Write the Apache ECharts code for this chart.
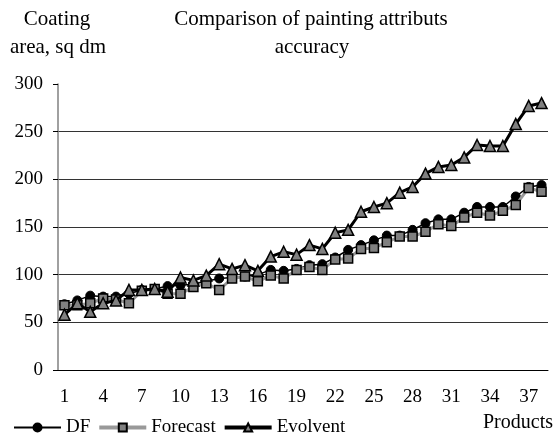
<!DOCTYPE html>
<html>
<head>
<meta charset="utf-8">
<script src="https://cdn.jsdelivr.net/npm/echarts@6/dist/echarts.min.js"></script>
<style>html,body{margin:0;padding:0;background:#fff}#c{width:556px;height:436px}</style>
</head>
<body>
<div id="c"></div>
<script>
const categories = Array.from({length: 38}, (_, i) => String(i + 1));
const dfValues = [69, 73, 78, 77, 77, 80, 84, 85, 88, 89, 90, 93, 96, 97, 98, 100, 105, 104, 106, 110, 111, 118, 126, 131, 136, 141, 141, 147, 154, 158, 158, 165, 171, 171, 171, 182, 192, 194];
const forecastValues = [68, 68, 70, 75, 74, 70, 83, 85, 80, 80, 87, 91, 84, 96, 98, 93, 99, 96, 105, 108, 105, 116, 117, 127, 128, 134, 140, 140, 145, 153, 151, 160, 165, 162, 167, 173, 191, 187];
const evolventValues = [58, 70, 61, 70, 73, 84, 84, 85, 82, 97, 94, 99, 111, 106, 110, 104, 119, 124, 121, 131, 127, 144, 147, 166, 171, 175, 186, 192, 206, 213, 215, 223, 236, 235, 235, 258, 277, 280];
const yTicks = [0, 50, 100, 150, 200, 250, 300];

const FONT = '"Liberation Serif", "Times New Roman", serif';
const chart = echarts.init(document.getElementById('c'));
function txt(t, x, y, size, align) {
  return {type: 'text', x: x, y: y, style: {text: t, fontFamily: FONT, fontSize: size, fill: '#000', textAlign: align || 'center', textVerticalAlign: 'middle'}};
}
chart.setOption({
  animation: false,
  backgroundColor: '#fff',
  textStyle: {fontFamily: FONT, color: '#000'},
  grid: {left: 58, right: 8, top: 84, bottom: 66},
  graphic: [
    txt('Comparison of painting attributs', 311, 19, 21),
    txt('accuracy', 312, 47, 21),
    txt('Coating', 57, 19, 21),
    txt('area, sq dm', 58, 47, 21),
    txt('Products', 553, 423, 20, 'right')
  ],
  legend: {
    left: 8, top: 413,
    itemWidth: 47, itemHeight: 10, itemGap: 7,
    textStyle: {fontFamily: FONT, fontSize: 19, color: '#000'},
    data: [
      {name: 'DF', lineStyle: {width: 2, color: '#000'}},
      {name: 'Forecast', lineStyle: {width: 4, color: '#999'}},
      {name: 'Evolvent', lineStyle: {width: 4, color: '#000'}}
    ]
  },
  xAxis: {
    type: 'category',
    data: categories,
    boundaryGap: true,
    axisLine: {lineStyle: {color: '#000', width: 1}},
    axisTick: {interval: 0, length: 5, lineStyle: {color: '#000'}},
    axisLabel: {interval: 2, fontFamily: FONT, fontSize: 19, color: '#000', margin: 18},
    splitLine: {show: false}
  },
  yAxis: {
    type: 'value',
    min: yTicks[0], max: yTicks[yTicks.length - 1], interval: 50,
    axisLine: {show: true, lineStyle: {color: '#808080', width: 1.5}},
    axisTick: {show: true, length: 5, lineStyle: {color: '#000'}},
    axisLabel: {fontFamily: FONT, fontSize: 19, color: '#000', margin: 15},
    splitLine: {show: true, lineStyle: {color: ['#333', '#333', '#333', '#333', '#333', '#333', 'rgba(0,0,0,0)'], width: 1}}
  },
  series: [
    {name: 'DF', type: 'line', data: dfValues, symbol: 'circle', symbolSize: 9, showAllSymbol: true,
     lineStyle: {color: '#000', width: 1.5}, itemStyle: {color: '#000', borderColor: '#000', borderWidth: 1}, z: 2},
    {name: 'Forecast', type: 'line', data: forecastValues, symbol: 'rect', symbolSize: 9, showAllSymbol: true,
     lineStyle: {color: '#999', width: 3}, itemStyle: {color: '#808080', borderColor: '#000', borderWidth: 1.5}, z: 3},
    {name: 'Evolvent', type: 'line', data: evolventValues, symbol: 'triangle', symbolSize: 11, showAllSymbol: true,
     lineStyle: {color: '#000', width: 3}, itemStyle: {color: '#808080', borderColor: '#000', borderWidth: 1.5}, z: 4}
  ]
});
</script>
</body>
</html>
